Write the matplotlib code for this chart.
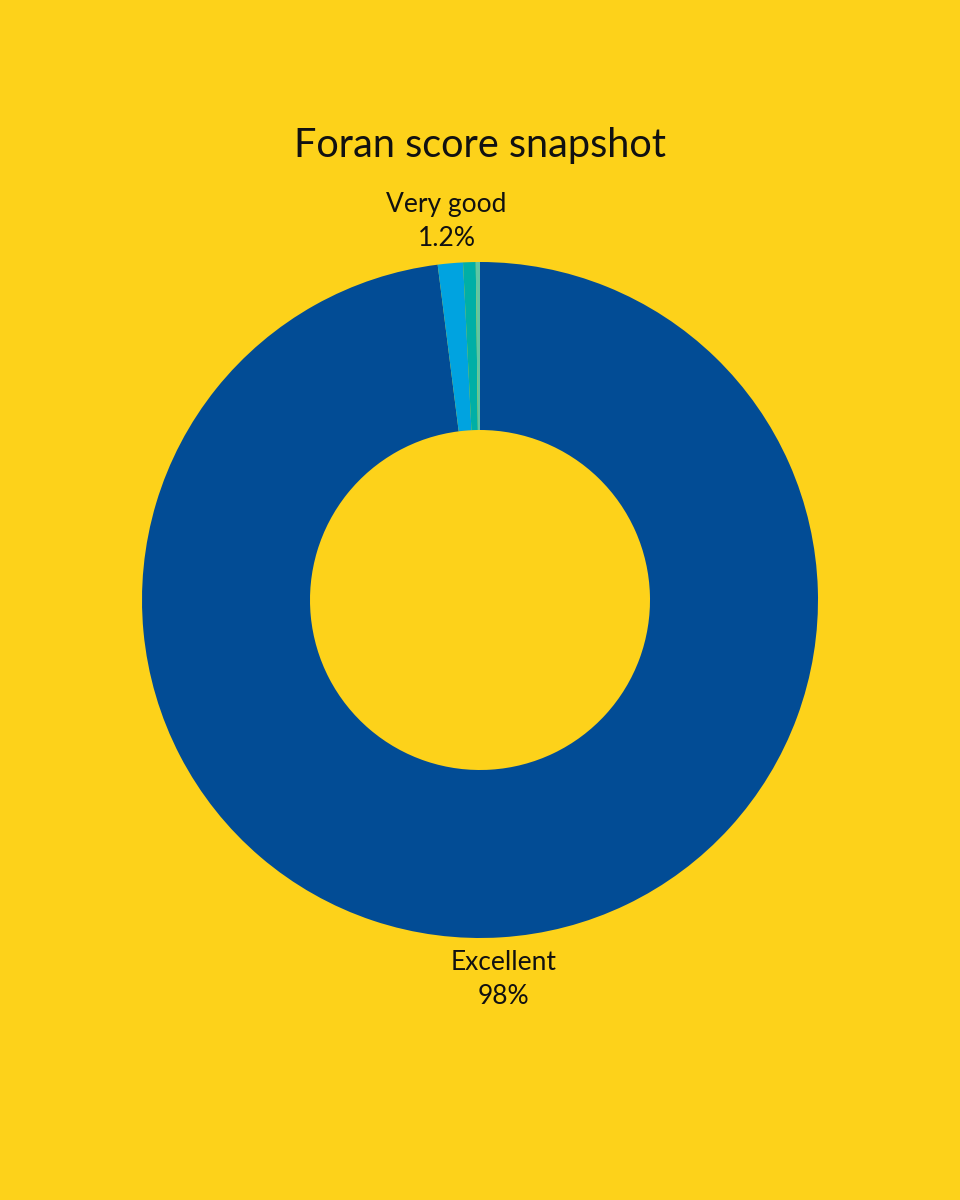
import matplotlib.pyplot as plt
import numpy as np

plt.rcParams["font.family"] = ["Lato", "DejaVu Sans"]

# data
categories = ["Excellent", "Very good", "Good", "Fair"]
shares = [98.0, 1.2, 0.6, 0.2]
label_text = ["Excellent\n98%", "Very good\n1.2%", "", ""]
colors = ["#024C95", "#00A3E0", "#00AFA6", "#5FC6A4"]
bg = "#FDD21A"

fig = plt.figure(figsize=(9.6, 12), dpi=100, facecolor=bg)
ax = fig.add_axes([0, 0, 1, 1])
ax.set_facecolor(bg)

R = 338.0  # outer radius in px
wedges, texts = ax.pie(
    shares,
    labels=label_text,
    colors=colors,
    startangle=90,
    counterclock=False,
    radius=1.0,
    labeldistance=1.125,
    wedgeprops=dict(width=(338 - 170) / R, linewidth=0),
    textprops=dict(fontsize=19, color="#111111", linespacing=1.45),
)
for t in texts:
    t.set_ha("center")
    t.set_va("center")

ax.set_xlim(-480 / R, 480 / R)
ax.set_ylim(-600 / R, 600 / R)
ax.axis("off")

fig.text(0.5, 1 - 145 / 1200, "Foran score snapshot", ha="center", va="center",
         fontsize=28.5, color="#111111")

fig.savefig("out.png", dpi=100, facecolor=bg)
